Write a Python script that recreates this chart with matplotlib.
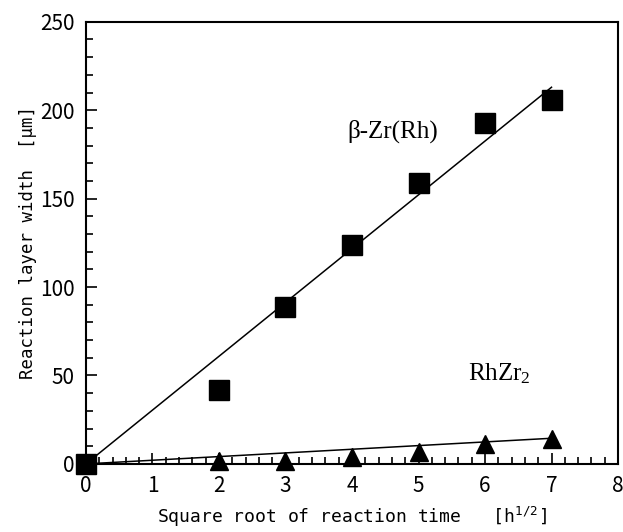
import numpy as np
import matplotlib.pyplot as plt
from matplotlib.ticker import MultipleLocator

# Messwerte
t_sqrt = [0, 2, 3, 4, 5, 6, 7]
beta_zr = [0, 42, 89, 124, 159, 193, 206]
t_tri = [2, 3, 4, 5, 6, 7]
rhzr2 = [1.5, 1.5, 4, 7, 11, 14]

# Ausgleichsgeraden
fit_x = [0, 7]
beta_fit = [0, 213]
rhzr2_fit = [0, 14.5]

plt.rcParams['font.family'] = ['Noto Sans CJK JP', 'DejaVu Sans']

fig = plt.figure(figsize=(6.23, 5.32), dpi=100)
ax = fig.add_axes([0.138, 0.128, 0.854, 0.831])

ax.plot(fit_x, beta_fit, color='black', lw=1.1, clip_on=False)
ax.plot(fit_x, rhzr2_fit, color='black', lw=1.1, clip_on=False)
ax.plot(t_sqrt, beta_zr, 's', color='black', ms=14, clip_on=False, zorder=5)
ax.plot(t_tri, rhzr2, '^', color='black', ms=13.5, clip_on=False, zorder=5)

ax.text(3.93, 188, 'β-Zr(Rh)', family='Liberation Serif', fontsize=18, va='center')
ax.text(5.75, 51, r'RhZr$\mathregular{_2}$', family='Liberation Serif', fontsize=18, va='center')

ax.set_xlim(0, 8)
ax.set_ylim(0, 250)
ax.xaxis.set_major_locator(MultipleLocator(1))
ax.xaxis.set_minor_locator(MultipleLocator(0.2))
ax.yaxis.set_major_locator(MultipleLocator(50))
ax.yaxis.set_minor_locator(MultipleLocator(10))
ax.tick_params(which='both', direction='in', top=False, right=False, labelsize=15, width=1.2)
ax.tick_params(which='major', length=8, pad=8)
ax.tick_params(which='minor', length=5)
for s in ax.spines.values():
    s.set_linewidth(1.5)

ax.set_xlabel(r'Square root of reaction time   [h$\mathregular{^{1/2}}$]', family='DejaVu Sans Mono',
              fontsize=13, labelpad=6)
ax.set_ylabel('Reaction layer width  [μm]', family='DejaVu Sans Mono',
              fontsize=12.5, labelpad=2)

fig.savefig('out.png', dpi=100)
